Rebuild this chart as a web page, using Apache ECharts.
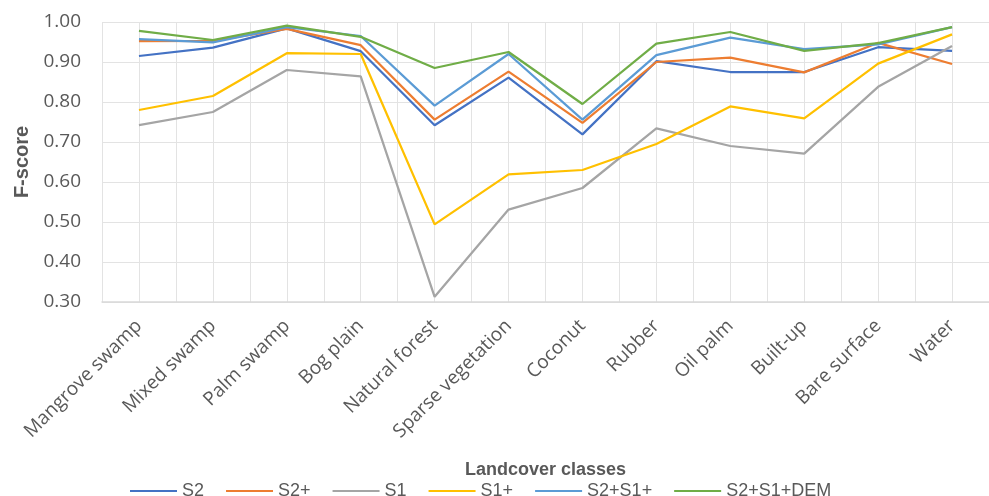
<!DOCTYPE html>
<html>
<head>
<meta charset="utf-8">
<script src="https://cdn.jsdelivr.net/npm/echarts@6/dist/echarts.min.js"></script>
<style>
  html, body { margin: 0; padding: 0; background: #fff; }
  #main { width: 989px; height: 496px; }
</style>
</head>
<body>
<div id="main"></div>
<script>
var classes = ['Mangrove swamp', 'Mixed swamp', 'Palm swamp', 'Bog plain', 'Natural forest',
    'Sparse vegetation', 'Coconut', 'Rubber', 'Oil palm', 'Built-up', 'Bare surface', 'Water'];

var s2     = [0.915, 0.936, 0.984, 0.927, 0.742, 0.861, 0.719, 0.902, 0.875, 0.875, 0.937, 0.928];
var s2p    = [0.952, 0.953, 0.983, 0.942, 0.756, 0.876, 0.748, 0.900, 0.911, 0.874, 0.948, 0.895];
var s1     = [0.742, 0.775, 0.880, 0.864, 0.313, 0.531, 0.585, 0.734, 0.690, 0.671, 0.838, 0.940];
var s1p    = [0.780, 0.815, 0.922, 0.920, 0.494, 0.619, 0.630, 0.695, 0.789, 0.759, 0.896, 0.969];
var s2s1p  = [0.957, 0.949, 0.987, 0.965, 0.791, 0.920, 0.756, 0.917, 0.961, 0.932, 0.944, 0.987];
var s2s1d  = [0.978, 0.955, 0.991, 0.963, 0.885, 0.925, 0.795, 0.946, 0.975, 0.928, 0.947, 0.987];

var seriesNames = ['S2', 'S2+', 'S1', 'S1+', 'S2+S1+', 'S2+S1+DEM'];
var seriesData = [s2, s2p, s1, s1p, s2s1p, s2s1d];
var colors = ['#4472C4', '#ED7D31', '#A5A5A5', '#FFC000', '#5B9BD5', '#70AD47'];

// half-category slots, only used to draw the extra vertical gridlines
var halfSlots = [];
for (var k = 0; k < classes.length * 2; k++) halfSlots.push('');

var labelFont = '"Open Sans", sans-serif';
var titleFont = '"Liberation Sans", Arial, sans-serif';

var series = [];
for (var i = 0; i < seriesNames.length; i++) {
    series.push({
        name: seriesNames[i],
        type: 'line',
        data: seriesData[i],
        showSymbol: false,
        symbol: 'none',
        lineStyle: { width: 2.25, color: colors[i] },
        itemStyle: { color: colors[i] },
        z: 3 + i
    });
}

var myChart = echarts.init(document.getElementById('main'));
var option = {
    animation: false,
    backgroundColor: '#fff',
    color: colors,
    grid: { left: 102, right: 0, top: 22, bottom: 194, containLabel: false },
    legend: {
        data: seriesNames,
        left: 125,
        top: 477,
        icon: 'rect',
        itemWidth: 47,
        itemHeight: 2,
        itemGap: 22,
        textStyle: { fontFamily: titleFont, fontSize: 18, color: '#595959' }
    },
    xAxis: [
        {
            type: 'category',
            data: classes,
            boundaryGap: true,
            name: 'Landcover classes',
            nameLocation: 'middle',
            nameGap: 159,
            nameTextStyle: { fontFamily: titleFont, fontSize: 18, fontWeight: 'bold', color: '#595959' },
            axisLine: { lineStyle: { color: '#d9d9d9', width: 1.5 } },
            axisTick: { show: false },
            splitLine: { show: false },
            axisLabel: {
                rotate: 45,
                margin: 21,
                interval: 0,
                fontFamily: labelFont,
                fontSize: 19,
                color: '#595959'
            }
        },
        {
            type: 'category',
            data: halfSlots,
            position: 'bottom',
            boundaryGap: true,
            axisLine: { show: false },
            axisTick: { show: false },
            axisLabel: { show: false },
            splitLine: { show: true, interval: 0, lineStyle: { color: '#e3e3e3', width: 1 } }
        }
    ],
    yAxis: {
        type: 'value',
        min: 0.3,
        max: 1.0,
        interval: 0.1,
        name: 'F-score',
        nameLocation: 'middle',
        nameGap: 67,
        nameRotate: 90,
        nameTextStyle: { fontFamily: titleFont, fontSize: 20, fontWeight: 'bold', color: '#595959' },
        axisLine: { show: false },
        axisTick: { show: false },
        axisLabel: {
            margin: 21,
            fontFamily: labelFont,
            fontSize: 19,
            color: '#595959',
            formatter: function (v) { return v.toFixed(2); }
        },
        splitLine: { lineStyle: { color: '#e3e3e3', width: 1 } }
    },
    series: series
};
myChart.setOption(option);
</script>
</body>
</html>
